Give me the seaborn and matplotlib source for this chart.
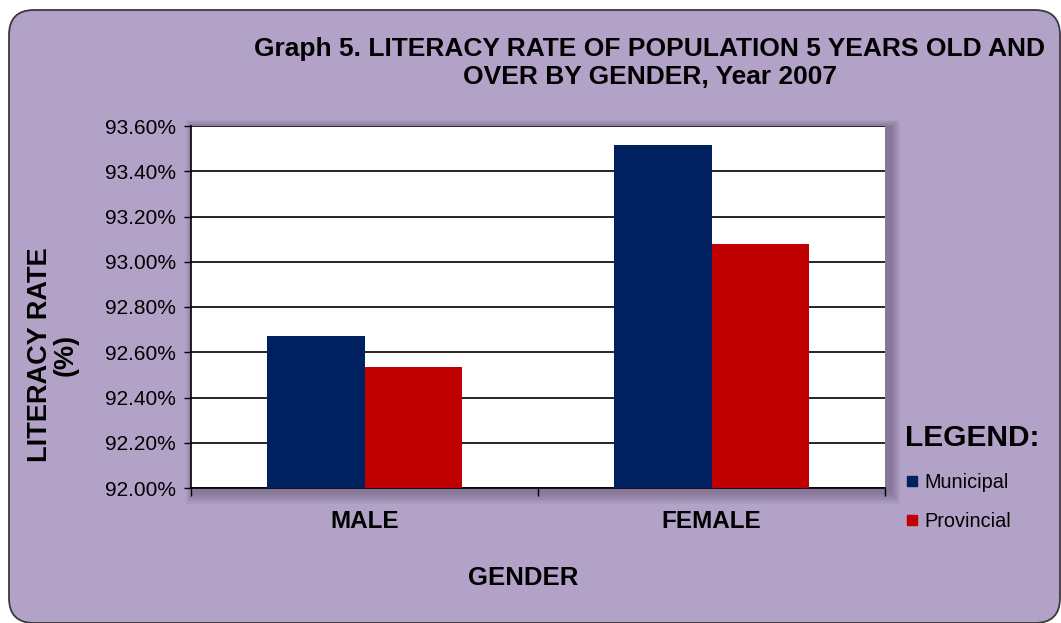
import numpy as np
import pandas as pd
import matplotlib
matplotlib.use("Agg")
import matplotlib.pyplot as plt
import seaborn as sns
from matplotlib.patches import FancyBboxPatch, Rectangle
from matplotlib.lines import Line2D
from matplotlib.ticker import FuncFormatter, FixedLocator

sns.set_style("white")
plt.rcParams['font.family'] = ['Liberation Sans', 'DejaVu Sans']
plt.rcParams['text.color'] = 'black'
plt.rcParams['xtick.color'] = 'black'
plt.rcParams['ytick.color'] = 'black'

# data
genders = ["MALE", "FEMALE"]
areas = ["Municipal", "Provincial"]
municipal = [92.67, 93.515]
provincial = [92.533, 93.078]
colors = ["#002060", "#C00000"]

df = pd.DataFrame({
    "gender": genders * 2,
    "area": [areas[0]] * 2 + [areas[1]] * 2,
    "rate": municipal + provincial,
})

W, H = 1061, 623
fig = plt.figure(figsize=(W / 100, H / 100), dpi=100, facecolor='white')

# purple rounded background panel (inches)
r = 0.25
bg = FancyBboxPatch((0.09 + r, 0.0 + r), 10.60 - 0.09 - 2 * r, 6.13 - 2 * r,
                    boxstyle=f"round,pad={r}", transform=fig.dpi_scale_trans,
                    facecolor="#B2A2C7", edgecolor="#3a3a3a", lw=1.3, zorder=0)
fig.patches.append(bg)

# plot area position (pixels)
L, R, T, B = 191, 885, 126, 488
ax = fig.add_axes([L / W, 1 - B / H, (R - L) / W, (B - T) / H])
ax.set_zorder(5)

# soft shadow behind plot area
for i in range(10, 0, -1):
    sh = Rectangle(((L - i * 0.8 + 3) / W, 1 - (B + i * 1.3 + 3) / H),
                   (R - L + i * 1.8 + 2) / W, (B - T + i * 2.0 + 2) / H,
                   transform=fig.transFigure, facecolor="#5a4a6a",
                   alpha=0.06, edgecolor='none', zorder=0.5)
    fig.patches.append(sh)

sns.barplot(data=df, x="gender", y="rate", hue="area", palette=colors,
            width=0.56, gap=0, dodge=True, legend=False, ax=ax, zorder=3,
            edgecolor="none", saturation=1)

ax.set_facecolor("white")
ax.set_ylim(92.0, 93.6)
ax.set_xlim(-0.5, 1.5)
ax.set_yticks(np.arange(92.0, 93.61, 0.2))
ax.yaxis.set_major_formatter(FuncFormatter(lambda v, p: f"{v:.2f}%"))
ax.yaxis.grid(True, color="black", lw=1.2)
ax.set_axisbelow(True)
ax.tick_params(axis='y', direction='out', length=5, width=1, color='black',
               labelsize=15, pad=6, left=True)

ax.xaxis.set_major_locator(FixedLocator([-0.5, 0.5, 1.5]))
ax.xaxis.set_minor_locator(FixedLocator([0, 1]))
ax.set_xticklabels([], minor=False)
ax.set_xticklabels(genders, minor=True, fontsize=17.5, fontweight='bold')
ax.tick_params(axis='x', which='major', direction='out', length=6, width=1,
               color='black', bottom=True)
ax.tick_params(axis='x', which='minor', length=0, pad=16)
ax.set_xlabel("")
ax.set_ylabel("")

for s in ["left", "bottom"]:
    ax.spines[s].set_color("black")
    ax.spines[s].set_linewidth(1.2)
ax.spines["top"].set_visible(False)
ax.spines["right"].set_visible(False)

fig.text(650 / W, 1 - 63 / H,
         "Graph 5. LITERACY RATE OF POPULATION 5 YEARS OLD AND\nOVER BY GENDER, Year 2007",
         ha='center', va='center', fontsize=19, fontweight='bold',
         linespacing=1.22, multialignment='center')
fig.text(53 / W, 1 - 355 / H, "LITERACY RATE\n(%)", rotation=90,
         ha='center', va='center', fontsize=19.5, fontweight='bold',
         multialignment='center', linespacing=1.0)
fig.text(523 / W, 1 - 578 / H, "GENDER", ha='center', va='center',
         fontsize=18.5, fontweight='bold')

fig.text(905 / W, 1 - 438 / H, "LEGEND:", ha='left', va='center',
         fontsize=21.5, fontweight='bold')
handles = [Line2D([], [], marker='s', ls='none', color=c, markersize=7)
           for c in colors]
fig.legend(handles, areas, loc='center left',
           bbox_to_anchor=(906 / W, 1 - 502 / H), frameon=False,
           fontsize=14.3, handlelength=0.6, handletextpad=0.35,
           labelspacing=1.05, borderpad=0, borderaxespad=0)

fig.savefig("out.png", dpi=100)
